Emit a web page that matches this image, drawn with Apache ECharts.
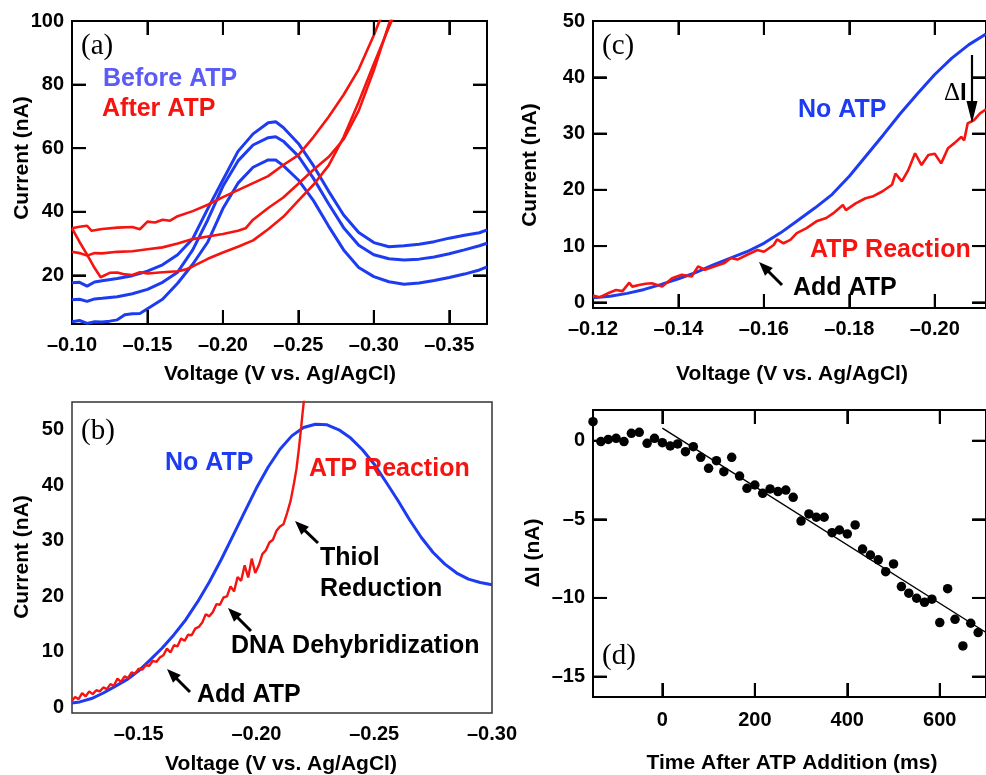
<!DOCTYPE html>
<html>
<head>
<meta charset="utf-8">
<script src="https://cdn.jsdelivr.net/npm/echarts@6/dist/echarts.min.js"></script>
<style>
html,body{margin:0;padding:0;background:#fff;}
#chart{width:986px;height:775px;}
</style>
</head>
<body>
<div id="chart"></div>
<script>
// ---------- tick labels ----------
const aXTicks = [-0.10, -0.15, -0.20, -0.25, -0.30, -0.35];
const aYTicks = [20, 40, 60, 80, 100];
const bXTicks = [-0.15, -0.20, -0.25, -0.30];
const bYTicks = [0, 10, 20, 30, 40, 50];
const cXTicks = [-0.12, -0.14, -0.16, -0.18, -0.20];
const cYTicks = [0, 10, 20, 30, 40, 50];
const dXTicks = [0, 200, 400, 600];
const dYTicks = [0, -5, -10, -15];

// ---------- panel (a): [voltage, current nA] ----------
const aBefore1 = [[-0.100,17.7],[-0.105,17.8],[-0.110,16.6],[-0.115,17.9],[-0.120,18.3],[-0.130,19.0],[-0.140,19.9],[-0.150,21.3],[-0.160,23.3],[-0.170,26.5],[-0.180,31.5],[-0.190,41.0],[-0.200,50.0],[-0.210,59.0],[-0.220,64.5],[-0.230,68.0],[-0.235,68.3],[-0.240,66.5],[-0.250,61.5],[-0.260,54.5],[-0.270,46.5],[-0.280,39.0],[-0.290,33.5],[-0.300,30.3],[-0.310,29.0],[-0.320,29.3],[-0.330,29.8],[-0.340,30.6],[-0.350,31.7],[-0.360,32.6],[-0.370,33.4],[-0.375,34.3]];
const aBefore2 = [[-0.100,12.3],[-0.105,12.5],[-0.110,11.8],[-0.115,12.6],[-0.120,12.8],[-0.130,13.3],[-0.140,14.2],[-0.150,15.6],[-0.160,17.8],[-0.170,21.0],[-0.180,28.0],[-0.190,37.5],[-0.200,48.0],[-0.210,56.0],[-0.220,61.0],[-0.230,63.3],[-0.235,63.6],[-0.240,62.2],[-0.250,57.5],[-0.260,50.5],[-0.270,42.5],[-0.280,35.0],[-0.290,29.5],[-0.300,26.5],[-0.310,25.2],[-0.320,24.8],[-0.330,25.1],[-0.340,25.8],[-0.350,26.8],[-0.360,28.0],[-0.370,29.3],[-0.375,30.1]];
const aBefore3 = [[-0.100,5.4],[-0.105,5.8],[-0.110,4.9],[-0.115,5.4],[-0.120,5.3],[-0.125,5.6],[-0.130,6.0],[-0.135,7.6],[-0.140,7.9],[-0.145,8.0],[-0.150,9.5],[-0.160,12.5],[-0.170,17.5],[-0.180,23.5],[-0.190,30.5],[-0.200,41.0],[-0.210,49.0],[-0.220,54.0],[-0.230,56.3],[-0.235,56.3],[-0.240,54.5],[-0.250,50.0],[-0.260,43.5],[-0.270,35.5],[-0.280,28.0],[-0.290,22.5],[-0.300,19.6],[-0.310,18.0],[-0.320,17.2],[-0.330,17.6],[-0.340,18.4],[-0.350,19.3],[-0.360,20.4],[-0.370,21.7],[-0.375,22.7]];
const aAfter1 = [[-0.100,34.8],[-0.105,35.3],[-0.110,35.6],[-0.113,34.0],[-0.120,34.6],[-0.130,35.0],[-0.140,35.2],[-0.145,34.5],[-0.150,36.9],[-0.155,36.6],[-0.160,37.5],[-0.165,37.2],[-0.170,38.6],[-0.180,40.2],[-0.190,42.2],[-0.200,44.6],[-0.210,46.8],[-0.220,49.0],[-0.230,51.2],[-0.240,54.7],[-0.250,57.8],[-0.260,63.5],[-0.270,69.8],[-0.280,76.8],[-0.290,84.8],[-0.300,95.5],[-0.305,101.5]];
const aAfter2 = [[-0.100,27.4],[-0.105,27.0],[-0.110,26.2],[-0.115,27.0],[-0.120,26.9],[-0.130,27.4],[-0.140,27.6],[-0.150,28.2],[-0.160,28.8],[-0.170,30.0],[-0.180,31.4],[-0.190,32.2],[-0.200,33.0],[-0.210,34.0],[-0.215,34.8],[-0.220,37.5],[-0.230,41.2],[-0.240,44.5],[-0.250,48.8],[-0.260,53.2],[-0.270,57.2],[-0.280,62.8],[-0.290,71.8],[-0.300,84.5],[-0.310,99.0],[-0.312,101.5]];
const aAfter3 = [[-0.100,34.8],[-0.105,30.5],[-0.110,26.5],[-0.115,22.3],[-0.119,19.4],[-0.125,20.8],[-0.130,20.9],[-0.135,20.3],[-0.140,20.1],[-0.145,21.0],[-0.150,20.6],[-0.160,21.0],[-0.170,21.3],[-0.175,21.8],[-0.180,22.8],[-0.190,25.2],[-0.200,27.2],[-0.210,29.0],[-0.220,31.0],[-0.230,34.5],[-0.240,38.4],[-0.250,43.5],[-0.260,48.5],[-0.270,54.5],[-0.280,63.5],[-0.290,74.5],[-0.300,86.5],[-0.310,98.0],[-0.313,101.5]];

// ---------- panel (b) ----------
const bNoATP = [[-0.1217,0.8],[-0.125,1.0],[-0.130,1.6],[-0.135,2.6],[-0.140,3.8],[-0.145,5.0],[-0.150,6.6],[-0.155,8.6],[-0.160,10.7],[-0.165,13.1],[-0.170,15.8],[-0.175,19.0],[-0.180,22.6],[-0.185,26.6],[-0.190,30.9],[-0.195,35.2],[-0.200,39.5],[-0.205,43.3],[-0.210,46.5],[-0.215,48.9],[-0.220,50.4],[-0.225,51.0],[-0.230,50.9],[-0.235,50.0],[-0.240,48.5],[-0.245,46.4],[-0.250,43.8],[-0.255,40.6],[-0.260,37.3],[-0.265,33.8],[-0.270,30.6],[-0.275,27.9],[-0.280,25.8],[-0.285,24.2],[-0.290,23.1],[-0.295,22.5],[-0.300,22.1]];
const bReaction = [[-0.1217,1.2],[-0.123,1.9],[-0.1245,1.5],[-0.126,2.6],[-0.1275,2.0],[-0.129,2.9],[-0.1305,2.4],[-0.132,3.1],[-0.1335,2.9],[-0.135,3.6],[-0.1365,3.3],[-0.138,4.2],[-0.1395,3.9],[-0.141,5.2],[-0.1425,4.6],[-0.144,5.6],[-0.1455,5.3],[-0.147,6.3],[-0.1485,6.1],[-0.150,7.0],[-0.1515,6.8],[-0.153,7.6],[-0.1545,7.5],[-0.156,8.4],[-0.1575,8.2],[-0.159,9.0],[-0.1605,9.4],[-0.162,10.6],[-0.1635,9.9],[-0.165,11.2],[-0.1665,11.0],[-0.168,12.4],[-0.1695,12.0],[-0.171,13.1],[-0.1725,13.0],[-0.174,14.2],[-0.1755,14.5],[-0.177,15.3],[-0.1785,16.8],[-0.180,16.4],[-0.1815,17.2],[-0.183,18.6],[-0.1845,18.5],[-0.186,19.8],[-0.1875,20.0],[-0.189,21.8],[-0.1905,20.9],[-0.192,23.5],[-0.1935,22.8],[-0.195,25.6],[-0.1965,23.4],[-0.198,26.8],[-0.1995,24.2],[-0.201,25.6],[-0.2025,27.6],[-0.204,28.3],[-0.2055,29.7],[-0.207,30.2],[-0.2085,31.8],[-0.210,32.6],[-0.2115,33.0],[-0.213,35.0],[-0.2145,37.2],[-0.216,40.5],[-0.217,43.0],[-0.218,46.5],[-0.219,50.5],[-0.2197,53.5],[-0.2205,56.5]];

// ---------- panel (c) ----------
const cNoATP = [[-0.120,0.8],[-0.124,1.1],[-0.128,1.6],[-0.132,2.3],[-0.136,3.2],[-0.140,4.2],[-0.144,5.3],[-0.148,6.6],[-0.152,7.8],[-0.156,9.0],[-0.160,10.5],[-0.164,12.4],[-0.168,14.6],[-0.172,16.8],[-0.176,19.2],[-0.180,22.4],[-0.184,26.1],[-0.188,29.8],[-0.192,33.6],[-0.196,37.1],[-0.200,40.5],[-0.204,43.4],[-0.208,45.8],[-0.212,47.7]];
const cReaction = [[-0.120,1.2],[-0.1215,0.9],[-0.1238,1.7],[-0.1254,2.2],[-0.1269,2.0],[-0.1285,3.5],[-0.1292,2.8],[-0.1308,3.1],[-0.1323,3.3],[-0.1338,3.4],[-0.1362,2.8],[-0.1385,4.3],[-0.1408,4.9],[-0.1431,4.6],[-0.1446,6.4],[-0.1462,5.8],[-0.1485,6.4],[-0.1508,7.0],[-0.1523,7.9],[-0.1538,7.6],[-0.1562,8.5],[-0.1585,9.3],[-0.160,9.0],[-0.1623,10.2],[-0.1631,11.2],[-0.1646,10.5],[-0.1662,11.1],[-0.1677,12.3],[-0.170,13.2],[-0.1723,14.4],[-0.1746,15.0],[-0.1762,15.8],[-0.1785,17.3],[-0.1792,16.4],[-0.1815,17.6],[-0.1838,18.5],[-0.1854,18.8],[-0.1877,19.7],[-0.190,20.9],[-0.1908,22.9],[-0.1923,21.5],[-0.1938,23.5],[-0.1954,26.5],[-0.1969,24.4],[-0.1985,26.2],[-0.200,26.4],[-0.2015,24.7],[-0.2031,27.4],[-0.2046,28.3],[-0.2062,29.4],[-0.2069,28.8],[-0.2077,31.8],[-0.2092,32.4],[-0.2106,33.6],[-0.2120,34.3]];

// ---------- panel (d) ----------
const dTime = [-150,-133,-117,-100,-83,-67,-50,-33,-17,0,17,33,50,67,83,100,117,133,150,167,183,200,217,233,250,267,283,300,317,333,350,367,383,400,417,433,450,467,483,500,517,533,550,567,583,600,617,633,650,667,683];
const dDeltaI = [1.21,-0.06,0.08,0.15,-0.06,0.47,0.53,-0.17,0.15,-0.13,-0.34,-0.21,-0.70,-0.38,-1.06,-1.76,-1.27,-1.97,-1.06,-2.25,-3.03,-2.82,-3.35,-3.07,-3.24,-3.14,-3.60,-5.11,-4.66,-4.87,-4.87,-5.85,-5.68,-5.93,-5.36,-6.89,-7.27,-7.58,-8.33,-7.84,-9.28,-9.70,-10.02,-10.28,-10.08,-11.57,-9.41,-11.36,-13.05,-11.61,-12.20];
const dFitTime = [0, 700];
const dFitDeltaI = [0.8, -12.2];

// ---------- styling ----------
const BLUE = '#1d3cf2';
const RED = '#f5140f';
const FONT = '"Liberation Sans", Arial, sans-serif';
const SERIF = '"Liberation Serif", "Times New Roman", serif';

const volt = v => (v < 0 ? '\u2013' : '') + Math.abs(v).toFixed(2);
const plain = v => (v < 0 ? '\u2013' : '') + Math.abs(v);

const gridRects = [
  {left: 72, top: 21, width: 415, height: 303},
  {left: 72, top: 402, width: 420, height: 311},
  {left: 593, top: 21, width: 398, height: 287},
  {left: 593, top: 410, width: 398, height: 287}
];
const grids = gridRects.map((g, i) => Object.assign({show: true, backgroundColor: 'transparent',
  borderColor: i === 1 ? '#333' : '#000', borderWidth: i === 1 ? 1.5 : 2}, g));

const panels = [
  {x: [-0.375, -0.10], inv: true, xt: aXTicks, y: [4.7, 100], yt: aYTicks, fx: volt, ticks: true, xm: 11, ys: 5},
  {x: [-0.30, -0.1217], inv: true, xt: bXTicks, y: [-1, 55], yt: bYTicks, fx: volt, ticks: false, xm: 11, ys: 5},
  {x: [-0.2120, -0.12], inv: true, xt: cXTicks, y: [-1, 50], yt: cYTicks, fx: volt, ticks: true, xm: 11, ys: 5},
  {x: [-150, 700], inv: false, xt: dXTicks, y: [-16.3, 1.95], yt: dYTicks, fx: plain, ticks: true, xm: 13, ys: 4}
];

const labelStyle = {color: '#000', fontSize: 20, fontWeight: 'bold', fontFamily: FONT};
const tickStyle = show => ({show: show, inside: true, length: 14, lineStyle: {color: '#000', width: 2}});
const xAxes = [], yAxes = [];
panels.forEach((p, i) => {
  xAxes.push({type: 'value', gridIndex: i, position: 'bottom', min: p.x[0], max: p.x[1], inverse: p.inv,
    splitNumber: 5, axisLine: {show: false, onZero: false}, splitLine: {show: false}, axisTick: tickStyle(p.ticks),
    axisLabel: Object.assign({customValues: p.xt, formatter: p.fx, margin: p.xm, showMinLabel: true, showMaxLabel: true}, labelStyle)});
  yAxes.push({type: 'value', gridIndex: i, position: 'left', min: p.y[0], max: p.y[1], splitNumber: p.ys,
    axisLine: {show: false, onZero: false}, splitLine: {show: false}, axisTick: tickStyle(p.ticks),
    axisLabel: Object.assign({customValues: p.yt, formatter: plain, margin: 8, showMinLabel: true, showMaxLabel: true}, labelStyle)});
});
panels.forEach((p, i) => {
  xAxes.push({type: 'value', gridIndex: i, position: 'top', min: p.x[0], max: p.x[1], inverse: p.inv,
    splitNumber: 5, axisLine: {show: false, onZero: false}, splitLine: {show: false}, axisTick: tickStyle(p.ticks),
    axisLabel: {show: false}});
  yAxes.push({type: 'value', gridIndex: i, position: 'right', min: p.y[0], max: p.y[1], splitNumber: p.ys,
    axisLine: {show: false, onZero: false}, splitLine: {show: false}, axisTick: tickStyle(p.ticks),
    axisLabel: {show: false}});
});

const line = (data, gi, color, width) => ({type: 'line', xAxisIndex: gi, yAxisIndex: gi, data: data,
  showSymbol: false, symbol: 'none', clip: true, lineStyle: {color: color, width: width},
  itemStyle: {color: color}, animation: false, z: 3});

// inward tick marks on all four sides: short two-point line series through each panel's own axes
const TICK = 14;
function tickLines(p, i) {
  const out = [];
  const g = gridRects[i];
  const xl = p.inv ? p.x[1] : p.x[0], xr = p.inv ? p.x[0] : p.x[1];
  const dxv = (xr - xl) * TICK / g.width;
  const dyv = (p.y[1] - p.y[0]) * TICK / g.height;
  p.xt.forEach(v => {
    if (Math.abs(v - p.x[0]) < 1e-9 || Math.abs(v - p.x[1]) < 1e-9) return;
    out.push(line([[v, p.y[0]], [v, p.y[0] + dyv]], i, '#000', 2));
    out.push(line([[v, p.y[1]], [v, p.y[1] - dyv]], i, '#000', 2));
  });
  p.yt.forEach(v => {
    if (Math.abs(v - p.y[0]) < 1e-9 || Math.abs(v - p.y[1]) < 1e-9) return;
    out.push(line([[xl, v], [xl + dxv, v]], i, '#000', 2));
    out.push(line([[xr, v], [xr - dxv, v]], i, '#000', 2));
  });
  return out;
}

const series = [
  line(aBefore1, 0, BLUE, 3), line(aBefore2, 0, BLUE, 3), line(aBefore3, 0, BLUE, 3),
  line(aAfter1, 0, RED, 2.6), line(aAfter2, 0, RED, 2.6), line(aAfter3, 0, RED, 2.6),
  line(bNoATP, 1, BLUE, 3), line(bReaction, 1, RED, 2.4),
  line(cNoATP, 2, BLUE, 3), line(cReaction, 2, RED, 2.6),
  {type: 'scatter', xAxisIndex: 3, yAxisIndex: 3, data: dTime.map((t, k) => [t, dDeltaI[k]]),
    symbol: 'circle', symbolSize: 9.5, itemStyle: {color: '#000', opacity: 1}, animation: false, z: 4},
  line(dFitTime.map((t, k) => [t, dFitDeltaI[k]]), 3, '#000', 1.4)
];
panels.forEach((p, i) => { if (p.ticks) series.push(...tickLines(p, i)); });

// ---------- annotations ----------
function txt(x, y, text, opts) {
  return {type: 'text', x: x, y: y, z: 10, rotation: (opts && opts.rot) || 0,
    style: Object.assign({text: text, fill: '#000', fontSize: 25, fontWeight: 'bold', fontFamily: FONT,
      align: 'left', verticalAlign: 'middle'}, (opts && opts.style) || {})};
}
function arrow(x1, y1, x2, y2, lw, hl, hw) {
  const dx = x2 - x1, dy = y2 - y1, L = Math.hypot(dx, dy), ux = dx / L, uy = dy / L;
  const bx = x2 - ux * hl, by = y2 - uy * hl, px = -uy, py = ux;
  return [
    {type: 'line', z: 10, shape: {x1: x1, y1: y1, x2: bx + ux * 2, y2: by + uy * 2}, style: {stroke: '#000', lineWidth: lw}},
    {type: 'polygon', z: 10, shape: {points: [[x2, y2], [bx + px * hw / 2, by + py * hw / 2], [bx - px * hw / 2, by - py * hw / 2]]},
      style: {fill: '#000'}}
  ];
}
const panelLbl = {style: {fontFamily: SERIF, fontWeight: 'normal', fontSize: 29}};
const title = {style: {fontSize: 21, align: 'center'}};
const vtitle = {rot: Math.PI / 2, style: {fontSize: 21, align: 'center'}};

const graphics = [
  txt(81, 46, '(a)', panelLbl), txt(81, 431, '(b)', panelLbl),
  txt(602, 46, '(c)', panelLbl), txt(602, 656, '(d)', panelLbl),
  txt(280, 374, 'Voltage (V vs. Ag/AgCl)', title),
  txt(281, 764, 'Voltage (V vs. Ag/AgCl)', title),
  txt(792, 374, 'Voltage (V vs. Ag/AgCl)', title),
  txt(792, 763, 'Time After ATP Addition (ms)', title),
  txt(22, 158, 'Current (nA)', vtitle),
  txt(22, 557, 'Current (nA)', vtitle),
  txt(530, 165, 'Current (nA)', vtitle),
  txt(533, 553, '\u0394I (nA)', vtitle),
  txt(103, 79, 'Before ATP', {style: {fill: '#5a5cf5'}}),
  txt(102, 109, 'After ATP', {style: {fill: RED}}),
  txt(165, 463, 'No ATP', {style: {fill: BLUE}}),
  txt(309, 469, 'ATP Reaction', {style: {fill: RED}}),
  txt(320, 558, 'Thiol'), txt(320, 589, 'Reduction'),
  txt(231, 646, 'DNA Dehybridization'),
  txt(197, 695, 'Add ATP'),
  ...arrow(318, 543, 295, 521, 3, 14, 11),
  ...arrow(251, 631, 228, 608, 3, 14, 11),
  ...arrow(190, 692, 167, 669, 3, 14, 11),
  txt(798, 110, 'No ATP', {style: {fill: BLUE}}),
  txt(810, 250, 'ATP Reaction', {style: {fill: RED}}),
  txt(793, 288, 'Add ATP'),
  ...arrow(782, 285, 759, 262, 3, 14, 11),
  {type: 'text', x: 944, y: 93, z: 10, style: {text: '{d|\u0394}{i|I}', verticalAlign: 'middle', align: 'left',
    rich: {d: {fontFamily: SERIF, fontSize: 25, fill: '#000', fontWeight: 'normal'},
           i: {fontFamily: FONT, fontSize: 24, fontWeight: 'bold', fill: '#000'}}}},
  ...arrow(972, 55, 972, 123, 2.2, 22, 11)
];

const chart = echarts.init(document.getElementById('chart'), null, {renderer: 'canvas'});
chart.setOption({
  animation: false,
  grid: grids,
  xAxis: xAxes,
  yAxis: yAxes,
  series: series
});
chart.setOption({graphic: {elements: graphics}});
</script>
</body>
</html>
